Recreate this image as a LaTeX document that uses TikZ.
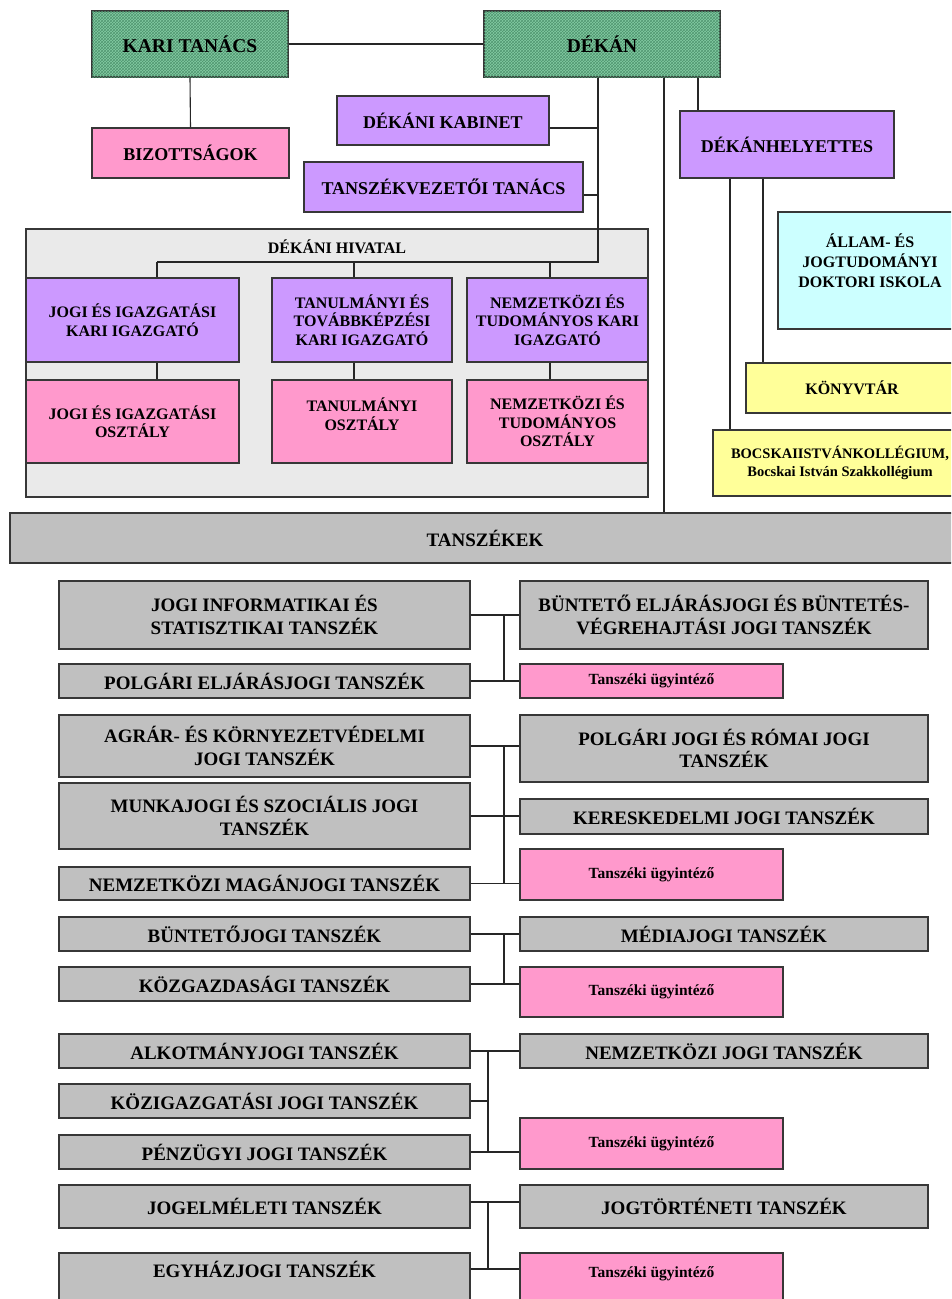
\documentclass[tikz,border=0pt]{standalone}
\usepackage{fontspec}
\setmainfont{Liberation Serif}
\usepackage{tikz}
\usetikzlibrary{patterns}
\usepackage{xcolor}
\definecolor{zold}{RGB}{132,204,164}
\definecolor{zoldvonal}{RGB}{80,150,112}
\definecolor{lila}{RGB}{204,153,255}
\definecolor{rozsa}{RGB}{255,153,204}
\definecolor{szurke}{RGB}{192,192,192}
\definecolor{halvany}{RGB}{234,234,234}
\definecolor{cian}{RGB}{204,255,255}
\definecolor{sarga}{RGB}{255,255,153}
\definecolor{keret}{RGB}{55,55,55}

\begin{document}
\begin{tikzpicture}[x=1pt,y=-1pt,
  doboz/.style={draw=keret,line width=1.1pt,inner sep=0pt,align=center,
    font=\bfseries\fontsize{18}{21}\selectfont},
  meret/.style 2 args={minimum width=#1pt,minimum height=#2pt},
  zoldmint/.style={fill=zold,postaction={pattern=crosshatch,pattern color=zoldvonal},
    font=\bfseries\fontsize{19.5}{22}\selectfont},
  kicsi/.style={font=\bfseries\fontsize{16}{18.5}\selectfont},
  tsz/.style={doboz,fill=szurke,line width=1.3pt,minimum width=411pt,
    font=\bfseries\fontsize{19}{22.5}\selectfont},
  tszj/.style={doboz,fill=szurke,line width=1.3pt,minimum width=408pt,
    font=\bfseries\fontsize{19}{22.5}\selectfont},
  ugy/.style={doboz,fill=rozsa,minimum width=263pt,
    font=\bfseries\fontsize{15.5}{18}\selectfont},
  vonal/.style={line width=1.1pt,draw=black!85}]

\useasboundingbox (0,0) rectangle (951,1299);
\clip (0,0) rectangle (951,1299);

% felso resz
\node [doboz,zoldmint,meret={196}{66}] (karitanacs) at (190,44) {KARI TAN\'ACS};
\node [doboz,zoldmint,meret={236}{66}] (dekan) at (602,44) {D\'EK\'AN};
\node [doboz,fill=rozsa,meret={197}{50}] (bizottsag) at (190.5,153) {BIZOTTS\'AGOK};
\node [doboz,fill=lila,meret={212}{49}] (kabinet) at (443,120.5) {D\'EK\'ANI KABINET};
\node [doboz,fill=lila,meret={279}{50}] (tvtanacs) at (443.5,187) {TANSZ\'EKVEZET\H{O}I TAN\'ACS};
\node [doboz,fill=lila,meret={214}{67}] (helyettes) at (787,144.5) {D\'EK\'ANHELYETTES};
\node [doboz,fill=cian,meret={184}{117},font=\bfseries\fontsize{16}{20}\selectfont] (doktori) at (870,270.5)
  {\'ALLAM- \'ES\\JOGTUDOM\'ANYI\\DOKTORI ISKOLA\\~};
\node [doboz,fill=sarga,meret={212}{50},kicsi] (konyvtar) at (852,388) {K\"ONYVT\'AR};
\node [doboz,fill=sarga,meret={254}{66},font=\bfseries\fontsize{14.5}{18}\selectfont] (bocskai) at (840,463)
  {BOCSKAIISTV\'ANKOLL\'EGIUM,\\Bocskai Istv\'an Szakkoll\'egium};

% dekani hivatal
\node [doboz,fill=halvany,meret={622}{268}] (hivatal) at (337,363) {};
\node [kicsi] (hivcim) at (337,247) {D\'EK\'ANI HIVATAL};
\node [doboz,fill=lila,meret={213}{84},kicsi] (jogiig) at (132.5,320) {JOGI \'ES IGAZGAT\'ASI\\KARI IGAZGAT\'O};
\node [doboz,fill=lila,meret={180}{84},kicsi] (tanulig) at (362,320) {TANULM\'ANYI \'ES\\TOV\'ABBK\'EPZ\'ESI\\KARI IGAZGAT\'O};
\node [doboz,fill=lila,meret={181}{84},kicsi] (nemzig) at (557.5,320) {NEMZETK\"OZI \'ES\\TUDOM\'ANYOS KARI\\IGAZGAT\'O};
\node [doboz,fill=rozsa,meret={213}{83},kicsi] (jogiosz) at (132.5,421.5) {JOGI \'ES IGAZGAT\'ASI\\OSZT\'ALY};
\node [doboz,fill=rozsa,meret={180}{83},kicsi] (tanulosz) at (362,421.5) {TANULM\'ANYI\\OSZT\'ALY\\[-4pt]~};
\node [doboz,fill=rozsa,meret={181}{83},kicsi] (nemzosz) at (557.5,421.5) {NEMZETK\"OZI \'ES\\TUDOM\'ANYOS\\OSZT\'ALY};

\node [doboz,fill=szurke,line width=1.3pt,meret={950}{50},font=\bfseries\fontsize{19}{22}\selectfont] (tanszekek) at (485,538) {TANSZ\'EKEK};

% tanszekek
\node [tsz,minimum height=68pt] (jogiinf) at (264.5,615) {JOGI INFORMATIKAI \'ES\\STATISZTIKAI TANSZ\'EK};
\node [tsz,minimum height=34pt] (polgelj) at (264.5,681) {POLG\'ARI ELJ\'AR\'ASJOGI TANSZ\'EK};
\node [tszj,minimum height=68pt] (buntelj) at (724,615) {B\"UNTET\H{O} ELJ\'AR\'ASJOGI \'ES B\"UNTET\'ES-\\V\'EGREHAJT\'ASI JOGI TANSZ\'EK};
\node [ugy,minimum height=34pt] (ugy1) at (651.5,681) {Tansz\'eki \"ugyint\'ez\H{o}};

\node [tsz,minimum height=62pt] (agrar) at (264.5,746) {AGR\'AR- \'ES K\"ORNYEZETV\'EDELMI\\JOGI TANSZ\'EK};
\node [tsz,minimum height=66pt] (munka) at (264.5,816) {MUNKAJOGI \'ES SZOCI\'ALIS JOGI\\TANSZ\'EK};
\node [tsz,minimum height=33pt] (nemzmag) at (264.5,883.5) {NEMZETK\"OZI MAG\'ANJOGI TANSZ\'EK};
\node [tszj,minimum height=67pt] (polgrom) at (724,748.5) {POLG\'ARI JOGI \'ES R\'OMAI JOGI\\TANSZ\'EK};
\node [tszj,minimum height=35pt] (keresk) at (724,816.5) {KERESKEDELMI JOGI TANSZ\'EK};
\node [ugy,minimum height=51pt] (ugy2) at (651.5,874.5) {Tansz\'eki \"ugyint\'ez\H{o}};

\node [tsz,minimum height=34pt] (buntjog) at (264.5,934) {B\"UNTET\H{O}JOGI TANSZ\'EK};
\node [tsz,minimum height=34pt] (kozgazd) at (264.5,984) {K\"OZGAZDAS\'AGI TANSZ\'EK};
\node [tszj,minimum height=34pt] (mediajog) at (724,934) {M\'EDIAJOGI TANSZ\'EK};
\node [ugy,minimum height=50pt] (ugy3) at (651.5,992) {Tansz\'eki \"ugyint\'ez\H{o}};

\node [tsz,minimum height=34pt] (alkot) at (264.5,1051) {ALKOTM\'ANYJOGI TANSZ\'EK};
\node [tsz,minimum height=34pt] (kozig) at (264.5,1101) {K\"OZIGAZGAT\'ASI JOGI TANSZ\'EK};
\node [tsz,minimum height=34pt] (penz) at (264.5,1152) {P\'ENZ\"UGYI JOGI TANSZ\'EK};
\node [tszj,minimum height=34pt] (nemzjog) at (724,1051) {NEMZETK\"OZI JOGI TANSZ\'EK};
\node [ugy,minimum height=51pt] (ugy4) at (651.5,1143.5) {Tansz\'eki \"ugyint\'ez\H{o}};

\node [tsz,minimum height=43pt] (jogelm) at (264.5,1206.5) {JOGELM\'ELETI TANSZ\'EK};
\node [tsz,minimum height=56pt] (egyhaz) at (264.5,1281) {EGYH\'AZJOGI TANSZ\'EK\\~};
\node [tszj,minimum height=43pt] (jogtort) at (724,1206.5) {JOGT\"ORT\'ENETI TANSZ\'EK};
\node [ugy,minimum height=56pt] (ugy5) at (651.5,1281) {Tansz\'eki \"ugyint\'ez\H{o}\\~};

% segedpontok
\coordinate (k1) at (598,128);
\coordinate (k2) at (598,195);
\coordinate (hk) at (598,262);
\coordinate (hb) at (157,262);
\coordinate (hm) at (354,262);
\coordinate (hj) at (550,262);
\coordinate (t3) at (664,0);
\coordinate (t4) at (698,0);
\coordinate (t5) at (730,0);
\coordinate (t6) at (763,0);
\coordinate (s1) at (504,0);
\coordinate (s2) at (488,0);
\coordinate (c5a) at (488,1202);
\coordinate (c5b) at (488,1269);

% vonalak
\draw [vonal] (karitanacs.east) -- (dekan.west);
\draw [vonal] (karitanacs.south) -- (bizottsag.north);
\draw [vonal] (dekan.south -| hk) -- (hk) -- (hb);
\draw [vonal] (kabinet.east |- k1) -- (k1);
\draw [vonal] (tvtanacs.east |- k2) -- (k2);
\draw [vonal] (hb) -- (hb |- jogiig.north);
\draw [vonal] (hm) -- (hm |- tanulig.north);
\draw [vonal] (hj) -- (hj |- nemzig.north);
\draw [vonal] (hb |- jogiig.south) -- (hb |- jogiosz.north);
\draw [vonal] (hm |- tanulig.south) -- (hm |- tanulosz.north);
\draw [vonal] (hj |- nemzig.south) -- (hj |- nemzosz.north);
\draw [vonal] (dekan.south -| t3) -- (tanszekek.north -| t3);
\draw [vonal] (dekan.south -| t4) -- (helyettes.north -| t4);
\draw [vonal] (helyettes.south -| t5) -- (bocskai.north -| t5);
\draw [vonal] (helyettes.south -| t6) -- (konyvtar.north -| t6);

\draw [vonal] (jogiinf.east) -- (buntelj.west);
\draw [vonal] (polgelj.east) -- (ugy1.west);
\draw [vonal] (jogiinf.east -| s1) -- (polgelj.east -| s1);

\draw [vonal] (agrar.east) -- (agrar.east -| polgrom.west);
\draw [vonal] (munka.east) -- (munka.east -| keresk.west);
\draw [vonal] (nemzmag.east) -- (nemzmag.east -| ugy2.west);
\draw [vonal] (agrar.east -| s1) -- (nemzmag.east -| s1);

\draw [vonal] (buntjog.east) -- (mediajog.west);
\draw [vonal] (kozgazd.east) -- (kozgazd.east -| ugy3.west);
\draw [vonal] (buntjog.east -| s1) -- (kozgazd.east -| s1);

\draw [vonal] (alkot.east) -- (nemzjog.west);
\draw [vonal] (kozig.east) -- (kozig.east -| s2);
\draw [vonal] (penz.east) -- (penz.east -| ugy4.west);
\draw [vonal] (alkot.east -| s2) -- (penz.east -| s2);

\draw [vonal] (jogelm.east |- c5a) -- (jogtort.west |- c5a);
\draw [vonal] (egyhaz.east |- c5b) -- (ugy5.west |- c5b);
\draw [vonal] (c5a) -- (c5b);

\end{tikzpicture}
\end{document}
